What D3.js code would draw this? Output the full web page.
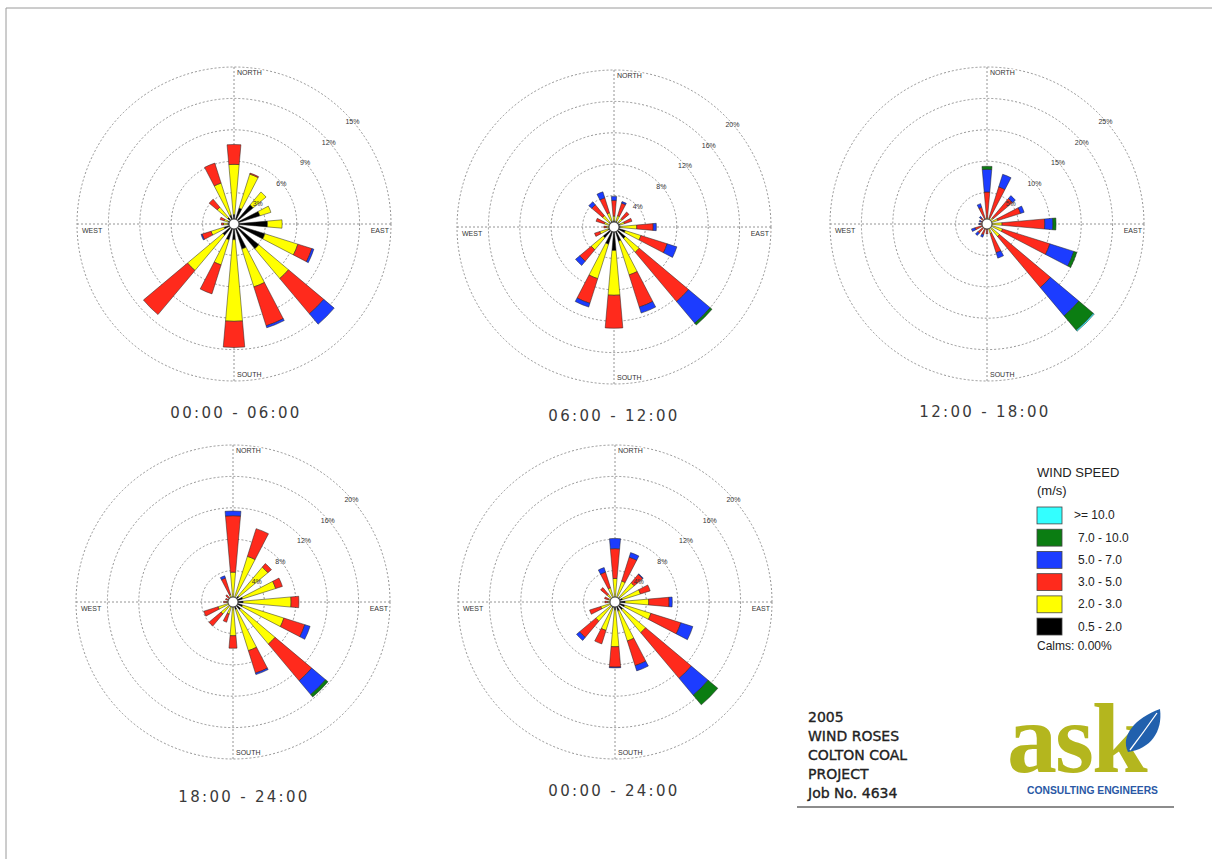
<!DOCTYPE html>
<html>
<head>
<meta charset="utf-8">
<script src="https://cdn.jsdelivr.net/npm/d3@7"></script>
<style>
  body { margin: 0; background: #fff; }
  svg { display: block; }
</style>
</head>
<body>
<div id="chart"></div>
<script>
// 16 compass sectors, clockwise from north
var directions = ["N","NNE","NE","ENE","E","ESE","SE","SSE","S","SSW","SW","WSW","W","WNW","NW","NNW"];

// speed classes, low to high
var speedClasses = ["0.5 - 2.0", "2.0 - 3.0", "3.0 - 5.0", "5.0 - 7.0", "7.0 - 10.0", ">= 10.0"];
var speedColors = ["#000000", "#ffff00", "#ff2a1c", "#1c3cff", "#0b7d12", "#33ffff"];

var periods = ["00:00 - 06:00", "06:00 - 12:00", "12:00 - 18:00", "18:00 - 24:00", "00:00 - 24:00"];
var ringTicks = [
  [3, 6, 9, 12, 15],
  [4, 8, 12, 16, 20],
  [5, 10, 15, 20, 25],
  [4, 8, 12, 16, 20],
  [4, 8, 12, 16, 20]
];

// frequency (%) per direction, one value per speed class (low -> high)
var rose0006 = [
  [0.9, 4.8, 1.9, 0.0, 0, 0],
  [1.6, 3.4, 0.1, 0.0, 0, 0],
  [2.4, 1.6, 0.0, 0.0, 0, 0],
  [2.6, 1.1, 0.0, 0.0, 0, 0],
  [3.2, 1.4, 0.0, 0.0, 0, 0],
  [3.1, 3.3, 1.4, 0.2, 0, 0],
  [3.1, 3.7, 4.4, 1.3, 0, 0],
  [2.5, 3.8, 3.9, 0.2, 0, 0],
  [1.5, 7.8, 2.5, 0.0, 0, 0],
  [1.6, 2.5, 2.9, 0.0, 0, 0],
  [1.4, 4.4, 5.5, 0.0, 0, 0],
  [1.0, 1.3, 0.9, 0.1, 0, 0],
  [0.6, 0.4, 0.2, 0.0, 0, 0],
  [0.6, 0.4, 0.4, 0.0, 0, 0],
  [0.8, 1.3, 1.0, 0.0, 0, 0],
  [0.9, 3.2, 2.0, 0.0, 0, 0]
];
var rose0612 = [
  [0.8, 0.6, 2.0, 0.5, 0, 0],
  [0.8, 0.7, 1.7, 0.2, 0, 0],
  [0.8, 0.6, 1.1, 0.0, 0, 0],
  [0.8, 0.6, 1.0, 0.0, 0, 0],
  [0.8, 2.1, 2.1, 0.4, 0, 0],
  [1.5, 2.1, 3.5, 1.3, 0, 0],
  [1.9, 2.3, 8.2, 3.6, 0.3, 0],
  [1.9, 4.5, 4.3, 0.8, 0, 0],
  [3.0, 5.7, 4.2, 0.0, 0, 0],
  [2.3, 4.6, 3.3, 0.5, 0, 0],
  [1.8, 2.0, 1.9, 0.7, 0, 0],
  [0.8, 1.1, 0.7, 0.0, 0, 0],
  [0.6, 0.4, 0.3, 0.0, 0, 0],
  [0.6, 0.7, 1.1, 0.0, 0, 0],
  [0.8, 1.1, 1.8, 0.5, 0, 0],
  [0.8, 1.1, 2.0, 0.8, 0, 0]
];
var rose1218 = [
  [0.3, 0.7, 4.1, 3.6, 0.5, 0],
  [0.3, 0.7, 5.2, 2.1, 0.0, 0],
  [0.3, 1.0, 4.0, 0.6, 0.0, 0],
  [0.3, 1.5, 3.8, 0.6, 0.0, 0],
  [0.3, 2.1, 6.8, 1.3, 0.5, 0],
  [0.3, 2.3, 7.9, 4.0, 0.5, 0],
  [0.3, 2.3, 10.6, 5.9, 3.0, 0.2],
  [0.3, 1.3, 3.2, 0.9, 0.0, 0],
  [0.3, 0.5, 0.8, 0.0, 0.0, 0],
  [0.3, 0.5, 1.0, 0.4, 0.0, 0],
  [0.3, 0.5, 1.1, 0.5, 0.0, 0],
  [0.3, 0.5, 1.2, 0.6, 0.0, 0],
  [0.3, 0.3, 0.5, 0.2, 0.0, 0],
  [0.3, 0.3, 0.4, 0.3, 0.0, 0],
  [0.3, 0.4, 0.6, 0.3, 0.0, 0],
  [0.3, 0.5, 2.0, 0.6, 0.0, 0]
];
var rose1824 = [
  [0.4, 3.4, 7.2, 0.6, 0, 0],
  [0.6, 5.5, 3.7, 0.0, 0, 0],
  [1.0, 4.8, 0.6, 0.0, 0, 0],
  [1.3, 4.4, 0.9, 0.0, 0, 0],
  [1.3, 6.1, 1.0, 0.0, 0, 0],
  [1.3, 5.5, 2.8, 0.7, 0, 0],
  [1.3, 5.7, 6.1, 2.3, 0.4, 0],
  [1.0, 5.5, 3.0, 0.2, 0, 0],
  [0.6, 3.7, 1.6, 0.0, 0, 0],
  [0.4, 1.2, 1.1, 0.0, 0, 0],
  [0.4, 1.6, 2.0, 0.0, 0, 0],
  [0.4, 1.6, 1.9, 0.0, 0, 0],
  [0.3, 0.5, 0.4, 0.0, 0, 0],
  [0.3, 0.3, 0.4, 0.0, 0, 0],
  [0.3, 0.4, 0.5, 0.0, 0, 0],
  [0.3, 0.7, 2.2, 0.3, 0, 0]
];
var rose0024 = [
  [0.5, 2.5, 3.8, 1.3, 0, 0],
  [0.6, 2.2, 3.2, 0.6, 0, 0],
  [0.8, 2.4, 1.4, 0.1, 0, 0],
  [1.0, 2.4, 1.3, 0.0, 0, 0],
  [1.3, 3.0, 2.6, 0.4, 0, 0],
  [1.3, 3.5, 4.0, 1.6, 0, 0],
  [1.3, 3.8, 7.6, 2.8, 1.6, 0],
  [1.2, 4.0, 3.3, 0.7, 0, 0],
  [1.0, 4.7, 2.6, 0.1, 0, 0],
  [0.8, 3.0, 1.8, 0.0, 0, 0],
  [0.7, 2.5, 2.7, 0.5, 0, 0],
  [0.5, 1.4, 1.5, 0.0, 0, 0],
  [0.4, 0.5, 0.4, 0.0, 0, 0],
  [0.4, 0.5, 0.5, 0.0, 0, 0],
  [0.5, 0.8, 1.1, 0.0, 0, 0],
  [0.5, 1.4, 2.1, 0.6, 0, 0]
];
var roses = [rose0006, rose0612, rose1218, rose1824, rose0024];

var titleLines = ["2005", "WIND ROSES", "COLTON COAL", "PROJECT", "Job No. 4634"];
var calms = "Calms: 0.00%";

// layout
var width = 1212, height = 859;
var R = 157;
var centers = [[234, 224], [614, 227], [987, 224], [233, 602], [615, 602]];
var titlePos = [[236, 418], [614, 421], [985, 417], [244, 802], [614, 796]];

var svg = d3.select("#chart").append("svg")
    .attr("width", width)
    .attr("height", height)
    .style("font-family", "'Liberation Sans', Arial, sans-serif");

svg.append("rect").attr("width", width).attr("height", height).attr("fill", "#fff");

// page frame (top + left edge)
svg.append("path")
    .attr("d", "M6," + height + "V8H" + width)
    .attr("fill", "none")
    .attr("stroke", "#9a9a9a")
    .attr("stroke-width", 1);

var stack = d3.stack().keys(d3.range(speedClasses.length));
var sector = 2 * Math.PI / directions.length;
var halfW = 5 * Math.PI / 180;

roses.forEach(function(rose, ri) {
    var r = d3.scaleLinear().domain([0, d3.max(ringTicks[ri])]).range([0, R]);
    var g = svg.append("g")
        .attr("transform", "translate(" + centers[ri][0] + "," + centers[ri][1] + ")");

    // grid rings
    g.selectAll("circle.ring")
        .data(ringTicks[ri])
        .enter().append("circle")
        .attr("class", "ring")
        .attr("r", function(d) { return r(d); })
        .attr("fill", "none")
        .attr("stroke", "#7a7a7a")
        .attr("stroke-width", 0.8)
        .attr("stroke-dasharray", "2,2");

    // cross hairs
    g.append("path")
        .attr("d", "M" + (-R) + ",0H" + R + "M0," + (-R) + "V" + R)
        .attr("stroke", "#7a7a7a")
        .attr("stroke-width", 0.8)
        .attr("stroke-dasharray", "2,2");

    // stacked petals
    var rows = rose.map(function(v, i) {
        var o = { i: i };
        v.forEach(function(x, k) { o[k] = x; });
        return o;
    });
    var series = stack(rows);

    var arc = d3.arc()
        .innerRadius(function(d) { return r(d[0]); })
        .outerRadius(function(d) { return r(d[1]); })
        .startAngle(function(d) { return d.data.i * sector - halfW; })
        .endAngle(function(d) { return d.data.i * sector + halfW; });

    g.selectAll("g.speed")
        .data(series)
        .enter().append("g")
        .attr("class", "speed")
        .attr("fill", function(s) { return speedColors[s.key]; })
        .selectAll("path")
        .data(function(s) { return s.filter(function(d) { return d[1] - d[0] > 0; }); })
        .enter().append("path")
        .attr("d", arc)
        .attr("stroke", "#222")
        .attr("stroke-width", 0.5);

    // calm circle
    g.append("circle")
        .attr("r", 5)
        .attr("fill", "#fff")
        .attr("stroke", "#222")
        .attr("stroke-width", 0.8);

    // ring labels
    var la = 49 * Math.PI / 180;
    g.selectAll("text.tick")
        .data(ringTicks[ri])
        .enter().append("text")
        .attr("class", "tick")
        .attr("x", function(d) { return r(d) * Math.sin(la); })
        .attr("y", function(d) { return -r(d) * Math.cos(la) + 3; })
        .attr("text-anchor", "middle")
        .attr("font-size", 7)
        .attr("fill", "#333")
        .text(function(d) { return d + "%"; });

    // compass labels
    var compass = [
        { t: "NORTH", x: 3, y: -149, a: "start" },
        { t: "SOUTH", x: 3, y: 153, a: "start" },
        { t: "WEST", x: -152, y: 9, a: "start" },
        { t: "EAST", x: 155, y: 9, a: "end" }
    ];
    g.selectAll("text.dir")
        .data(compass)
        .enter().append("text")
        .attr("class", "dir")
        .attr("x", function(d) { return d.x; })
        .attr("y", function(d) { return d.y; })
        .attr("text-anchor", function(d) { return d.a; })
        .attr("font-size", 7)
        .attr("fill", "#333")
        .style("paint-order", "stroke")
        .attr("stroke", "#fff")
        .attr("stroke-width", 2)
        .text(function(d) { return d.t; });

    // period title
    svg.append("text")
        .attr("x", titlePos[ri][0])
        .attr("y", titlePos[ri][1])
        .attr("text-anchor", "middle")
        .attr("font-family", "'DejaVu Sans', Verdana, sans-serif")
        .attr("font-size", 15)
        .attr("letter-spacing", 2.3)
        .attr("fill", "#3a3a3a")
        .text(periods[ri]);
});

// legend
var legend = svg.append("g").attr("transform", "translate(1037,0)");
legend.append("text").attr("x", 0).attr("y", 477).attr("font-size", 13).attr("fill", "#222").text("WIND SPEED");
legend.append("text").attr("x", 0).attr("y", 495).attr("font-size", 13).attr("fill", "#222").text("(m/s)");

var legendOrder = d3.range(speedClasses.length).reverse();
var ly = d3.scaleBand().domain(legendOrder).range([507, 635]).paddingInner(0.24);

legend.selectAll("rect.key")
    .data(legendOrder)
    .enter().append("rect")
    .attr("class", "key")
    .attr("x", 0)
    .attr("y", function(k) { return ly(k); })
    .attr("width", 25)
    .attr("height", ly.bandwidth())
    .attr("fill", function(k) { return speedColors[k]; })
    .attr("stroke", "#444")
    .attr("stroke-width", 0.8);

legend.selectAll("text.key")
    .data(legendOrder)
    .enter().append("text")
    .attr("class", "key")
    .attr("x", function(k) { return k === 5 ? 37 : 41; })
    .attr("y", function(k) { return ly(k) + ly.bandwidth() / 2 + 4; })
    .attr("font-size", 12)
    .attr("fill", "#222")
    .text(function(k) { return speedClasses[k]; });

legend.append("text").attr("x", 0).attr("y", 650).attr("font-size", 12).attr("fill", "#222").text(calms);

// title block
svg.selectAll("text.title")
    .data(titleLines)
    .enter().append("text")
    .attr("class", "title")
    .attr("x", 808)
    .attr("y", function(d, i) { return 722 + i * 19; })
    .attr("font-family", "'DejaVu Sans', Verdana, sans-serif")
    .attr("font-size", 14)
    .attr("fill", "#222")
    .attr("stroke", "#222")
    .attr("stroke-width", 0.35)
    .text(function(d) { return d; });

svg.append("rect")
    .attr("x", 797).attr("y", 806).attr("width", 377).attr("height", 2)
    .attr("fill", "#8c8c8c");

// logo
var logo = svg.append("g");
logo.append("text")
    .attr("x", 1007).attr("y", 772)
    .attr("font-family", "'Liberation Serif', 'DejaVu Serif', serif")
    .attr("font-size", 100)
    .attr("font-weight", "bold")
    .attr("letter-spacing", -2)
    .attr("fill", "#b4b61e")
    .text("ask");
logo.append("path")
    .attr("d", "M1128,752C1120,736 1135,718 1160,709C1163,732 1150,749 1128,752Z")
    .attr("fill", "#2160ad");
logo.append("path")
    .attr("d", "M1130,750Q1143,733 1157,713")
    .attr("fill", "none")
    .attr("stroke", "#fff")
    .attr("stroke-width", 1.3);
logo.append("text")
    .attr("x", 1027).attr("y", 794)
    .attr("font-size", 10)
    .attr("font-weight", "bold")
    .attr("fill", "#2a58a5")
    .attr("textLength", 131)
    .attr("lengthAdjust", "spacingAndGlyphs")
    .text("CONSULTING ENGINEERS");
</script>
</body>
</html>
